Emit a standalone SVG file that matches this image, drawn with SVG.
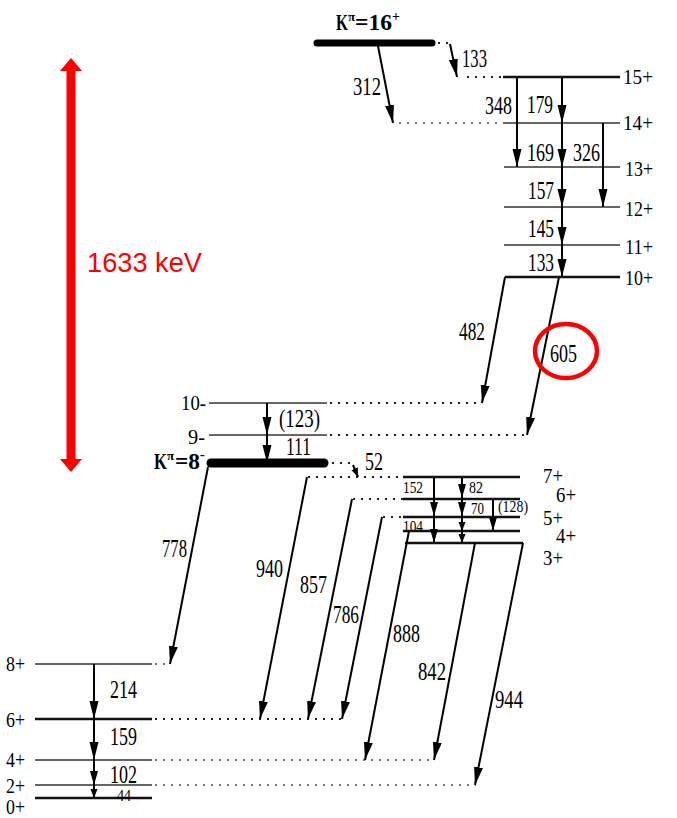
<svg xmlns="http://www.w3.org/2000/svg" width="677" height="818" viewBox="0 0 677 818">
<style>
.t{font-family:"Liberation Serif","Times New Roman",serif;font-size:25px;fill:#000}
.s{font-family:"Liberation Serif","Times New Roman",serif;font-size:17px;fill:#000}
.l{font-family:"Liberation Serif","Times New Roman",serif;font-size:22px;fill:#000}
.b{font-family:"Liberation Serif","Times New Roman",serif;font-weight:bold;fill:#000}
.lv{stroke:#111;stroke-width:2.5;fill:none}
.lg{stroke:#666;stroke-width:2;fill:none}
.dt{stroke:#222;stroke-width:2;stroke-dasharray:2 6;fill:none}
.dg{stroke:#777;stroke-width:2;stroke-dasharray:2 6;fill:none}
.tr{stroke:#000;stroke-width:2;fill:none;marker-end:url(#ah)}
.tm{stroke:#000;stroke-width:2;fill:none;marker-end:url(#am)}
.ts{stroke:#000;stroke-width:2;fill:none;marker-end:url(#as)}
</style>
<defs>
<marker id="ah" markerUnits="userSpaceOnUse" markerWidth="19" markerHeight="10" refX="18" refY="4.5" orient="auto" viewBox="0 0 19 10"><path d="M0,0 L18,4.5 L0,9 z" fill="#000"/></marker>
<marker id="am" markerUnits="userSpaceOnUse" markerWidth="15" markerHeight="9" refX="14" refY="4" orient="auto" viewBox="0 0 15 9"><path d="M0,0 L14,4 L0,8 z" fill="#000"/></marker>
<marker id="as" markerUnits="userSpaceOnUse" markerWidth="10" markerHeight="8" refX="9" refY="3.5" orient="auto" viewBox="0 0 10 8"><path d="M0,0 L9,3.5 L0,7 z" fill="#000"/></marker>
</defs>
<rect width="677" height="818" fill="#fff"/>

<g id="energy-span">
<path d="M71,58 L82,71 L75.5,71 L75.5,459 L82,459 L71,472 L60,459 L66.5,459 L66.5,71 L60,71 z" fill="#ff0000"/>
<text x="87" y="272" font-family="Liberation Sans,Arial,sans-serif" font-size="27" fill="#ff0000" textLength="115" lengthAdjust="spacingAndGlyphs">1633 keV</text>
</g>

<g id="band-k16">
<line x1="317" y1="43" x2="432" y2="43" stroke="#000" stroke-width="7" stroke-linecap="round"/>
<line class="dt" x1="438" y1="43" x2="452" y2="43"/>
<text class="b" x="336" y="30" font-size="24" textLength="12" lengthAdjust="spacingAndGlyphs">K</text>
<text class="b" x="348" y="21" font-size="13">π</text>
<text class="b" x="355" y="30" font-size="24" textLength="37" lengthAdjust="spacingAndGlyphs">=16</text>
<text class="b" x="392" y="21" font-size="14">+</text>
</g>

<g id="band-high">
<line class="dt" x1="467" y1="77" x2="503" y2="77"/>
<line class="lv" x1="503" y1="77" x2="620" y2="77"/>
<text class="l" x="623" y="84" textLength="30" lengthAdjust="spacingAndGlyphs">15+</text>
<line class="dg" x1="399" y1="123" x2="503" y2="123"/>
<line class="lg" x1="503" y1="123" x2="620" y2="123"/>
<text class="l" x="623" y="130" textLength="30" lengthAdjust="spacingAndGlyphs">14+</text>
<line class="lg" x1="504" y1="167" x2="620" y2="167"/>
<text class="l" x="625" y="176" textLength="28" lengthAdjust="spacingAndGlyphs">13+</text>
<line class="lg" x1="504" y1="207" x2="620" y2="207" stroke="#444"/>
<text class="l" x="625" y="216" textLength="28" lengthAdjust="spacingAndGlyphs">12+</text>
<line class="lg" x1="504" y1="245" x2="620" y2="245"/>
<text class="l" x="625" y="254" textLength="28" lengthAdjust="spacingAndGlyphs">11+</text>
<line class="lv" x1="505" y1="277" x2="620" y2="277"/>
<text class="l" x="625" y="285" textLength="28" lengthAdjust="spacingAndGlyphs">10+</text>
</g>

<g id="band-k8">
<line class="lg" x1="209" y1="403" x2="327" y2="403" stroke="#444"/>
<line class="dt" x1="330" y1="403" x2="482" y2="403"/>
<text class="l" x="181" y="410" textLength="25" lengthAdjust="spacingAndGlyphs">10-</text>
<line class="lg" x1="209" y1="435" x2="327" y2="435" stroke="#444"/>
<line class="dt" x1="330" y1="435" x2="527" y2="435"/>
<text class="l" x="188" y="444" textLength="17" lengthAdjust="spacingAndGlyphs">9-</text>
<line x1="211" y1="463" x2="324" y2="463" stroke="#000" stroke-width="9" stroke-linecap="round"/>
<line class="dt" x1="332" y1="463" x2="352" y2="463"/>
<text class="b" x="154" y="469" font-size="24" textLength="13" lengthAdjust="spacingAndGlyphs">K</text>
<text class="b" x="167" y="460" font-size="13">π</text>
<text class="b" x="175" y="469" font-size="24" textLength="25" lengthAdjust="spacingAndGlyphs">=8</text>
<text class="b" x="200" y="459" font-size="14">-</text>
</g>

<g id="band-3plus">
<line class="dt" x1="308" y1="477" x2="403" y2="477"/>
<line class="lv" x1="403" y1="477" x2="520" y2="477" stroke="#333"/>
<text class="l" x="543" y="483" textLength="20" lengthAdjust="spacingAndGlyphs">7+</text>
<line class="dt" x1="353" y1="499" x2="403" y2="499"/>
<line class="lv" x1="403" y1="499" x2="520" y2="499" stroke="#333"/>
<text class="l" x="556" y="502" textLength="20" lengthAdjust="spacingAndGlyphs">6+</text>
<line class="dt" x1="383" y1="517" x2="403" y2="517"/>
<line class="lv" x1="403" y1="517" x2="520" y2="517" stroke="#333"/>
<text class="l" x="543" y="525" textLength="20" lengthAdjust="spacingAndGlyphs">5+</text>
<line class="lv" x1="403" y1="531" x2="520" y2="531" stroke="#333"/>
<text class="l" x="556" y="543" textLength="20" lengthAdjust="spacingAndGlyphs">4+</text>
<line class="lv" x1="405" y1="543" x2="523" y2="543" stroke="#333"/>
<text class="l" x="543" y="565" textLength="20" lengthAdjust="spacingAndGlyphs">3+</text>
</g>

<g id="band-ground">
<line class="lg" x1="35" y1="664" x2="152" y2="664" stroke="#777"/>
<line class="dg" x1="155" y1="664" x2="168" y2="664"/>
<text class="l" x="6" y="671" textLength="19" lengthAdjust="spacingAndGlyphs">8+</text>
<line class="lv" x1="35" y1="719" x2="152" y2="719"/>
<line class="dt" x1="155" y1="719" x2="343" y2="719"/>
<text class="l" x="6" y="727" textLength="19" lengthAdjust="spacingAndGlyphs">6+</text>
<line class="lg" x1="35" y1="760" x2="152" y2="760" stroke="#777"/>
<line class="dg" x1="155" y1="760" x2="434" y2="760"/>
<text class="l" x="6" y="767" textLength="19" lengthAdjust="spacingAndGlyphs">4+</text>
<line class="lg" x1="35" y1="785" x2="152" y2="785" stroke="#888"/>
<line class="dg" x1="155" y1="785" x2="476" y2="785"/>
<text class="l" x="6" y="793" textLength="19" lengthAdjust="spacingAndGlyphs">2+</text>
<line class="lv" x1="35" y1="798" x2="152" y2="798"/>
<text class="l" x="6" y="814" textLength="19" lengthAdjust="spacingAndGlyphs">0+</text>
</g>

<g id="connectors">
<line class="tr" x1="450" y1="44" x2="457" y2="77"/>
<text class="t" x="462" y="67" textLength="25" lengthAdjust="spacingAndGlyphs">133</text>
<line class="tr" x1="378" y1="46" x2="393" y2="123"/>
<text class="t" x="353" y="95" textLength="28" lengthAdjust="spacingAndGlyphs">312</text>
<line class="tr" x1="517" y1="77" x2="517" y2="167"/>
<text class="t" x="485" y="114" textLength="27" lengthAdjust="spacingAndGlyphs">348</text>
<line class="tr" x1="562" y1="77" x2="562" y2="123"/>
<text class="t" x="527" y="113" textLength="26" lengthAdjust="spacingAndGlyphs">179</text>
<line class="tr" x1="562" y1="123" x2="562" y2="167"/>
<text class="t" x="527" y="161" textLength="27" lengthAdjust="spacingAndGlyphs">169</text>
<line class="tr" x1="603" y1="123" x2="603" y2="207"/>
<text class="t" x="573" y="161" textLength="27" lengthAdjust="spacingAndGlyphs">326</text>
<line class="tr" x1="562" y1="167" x2="562" y2="207"/>
<text class="t" x="528" y="199" textLength="26" lengthAdjust="spacingAndGlyphs">157</text>
<line class="tr" x1="562" y1="207" x2="562" y2="245"/>
<text class="t" x="528" y="237" textLength="26" lengthAdjust="spacingAndGlyphs">145</text>
<line class="tr" x1="562" y1="245" x2="562" y2="277"/>
<text class="t" x="528" y="271" textLength="26" lengthAdjust="spacingAndGlyphs">133</text>
<line class="tr" x1="505" y1="277" x2="482" y2="403"/>
<text class="t" x="459" y="340" textLength="26" lengthAdjust="spacingAndGlyphs">482</text>
<line class="tr" x1="559" y1="277" x2="527" y2="435"/>
<text class="t" x="550" y="362" textLength="27" lengthAdjust="spacingAndGlyphs">605</text>
<ellipse cx="566" cy="351" rx="31" ry="27" fill="none" stroke="#ff0000" stroke-width="4.5"/>
<line class="tr" x1="267" y1="403" x2="267" y2="435"/>
<text class="t" x="279" y="427" textLength="41" lengthAdjust="spacingAndGlyphs">(123)</text>
<line class="tr" x1="267" y1="435" x2="267" y2="463"/>
<text class="t" x="286" y="455" textLength="25" lengthAdjust="spacingAndGlyphs">111</text>
<line class="ts" x1="353" y1="465" x2="358" y2="477"/>
<text class="t" x="365" y="470" textLength="18" lengthAdjust="spacingAndGlyphs">52</text>
<line class="tm" x1="434" y1="477" x2="434" y2="516"/>
<text class="s" x="403" y="493" textLength="20" lengthAdjust="spacingAndGlyphs">152</text>
<line class="tm" x1="434" y1="517" x2="434" y2="543"/>
<text class="s" x="403" y="532" textLength="20" lengthAdjust="spacingAndGlyphs">104</text>
<line class="tm" x1="462" y1="477" x2="462" y2="498"/>
<text class="s" x="469" y="493" textLength="14" lengthAdjust="spacingAndGlyphs">82</text>
<line class="tm" x1="462" y1="499" x2="462" y2="516"/>
<text class="s" x="471" y="514" textLength="13" lengthAdjust="spacingAndGlyphs">70</text>
<line class="ts" x1="462" y1="517" x2="462" y2="531"/>
<line class="ts" x1="462" y1="531" x2="462" y2="543"/>
<line class="tm" x1="493" y1="499" x2="493" y2="531"/>
<text class="s" x="498" y="512" textLength="30" lengthAdjust="spacingAndGlyphs">(128)</text>
<line class="tr" x1="208" y1="467" x2="170" y2="664"/>
<text class="t" x="162" y="557" textLength="25" lengthAdjust="spacingAndGlyphs">778</text>
<line class="tr" x1="307" y1="477" x2="260" y2="719"/>
<text class="t" x="256" y="577" textLength="27" lengthAdjust="spacingAndGlyphs">940</text>
<line class="tr" x1="352" y1="499" x2="308" y2="719"/>
<text class="t" x="300" y="593" textLength="27" lengthAdjust="spacingAndGlyphs">857</text>
<line class="tr" x1="382" y1="517" x2="342" y2="719"/>
<text class="t" x="333" y="623" textLength="26" lengthAdjust="spacingAndGlyphs">786</text>
<line class="tr" x1="409" y1="531" x2="365" y2="760"/>
<text class="t" x="393" y="642" textLength="27" lengthAdjust="spacingAndGlyphs">888</text>
<line class="tr" x1="475" y1="543" x2="434" y2="760"/>
<text class="t" x="418" y="680" textLength="28" lengthAdjust="spacingAndGlyphs">842</text>
<line class="tr" x1="523" y1="543" x2="475" y2="785"/>
<text class="t" x="495" y="708" textLength="28" lengthAdjust="spacingAndGlyphs">944</text>
<line class="tr" x1="94" y1="664" x2="94" y2="719"/>
<text class="t" x="110" y="698" textLength="27" lengthAdjust="spacingAndGlyphs">214</text>
<line class="tr" x1="94" y1="719" x2="94" y2="760"/>
<text class="t" x="110" y="745" textLength="27" lengthAdjust="spacingAndGlyphs">159</text>
<line class="tm" x1="94" y1="760" x2="94" y2="785"/>
<text class="t" x="110" y="783" textLength="27" lengthAdjust="spacingAndGlyphs">102</text>
<line class="ts" x1="94" y1="785" x2="94" y2="798"/>
<text class="s" x="117" y="801" textLength="14" lengthAdjust="spacingAndGlyphs" fill="#444">44</text>
</g>
</svg>
